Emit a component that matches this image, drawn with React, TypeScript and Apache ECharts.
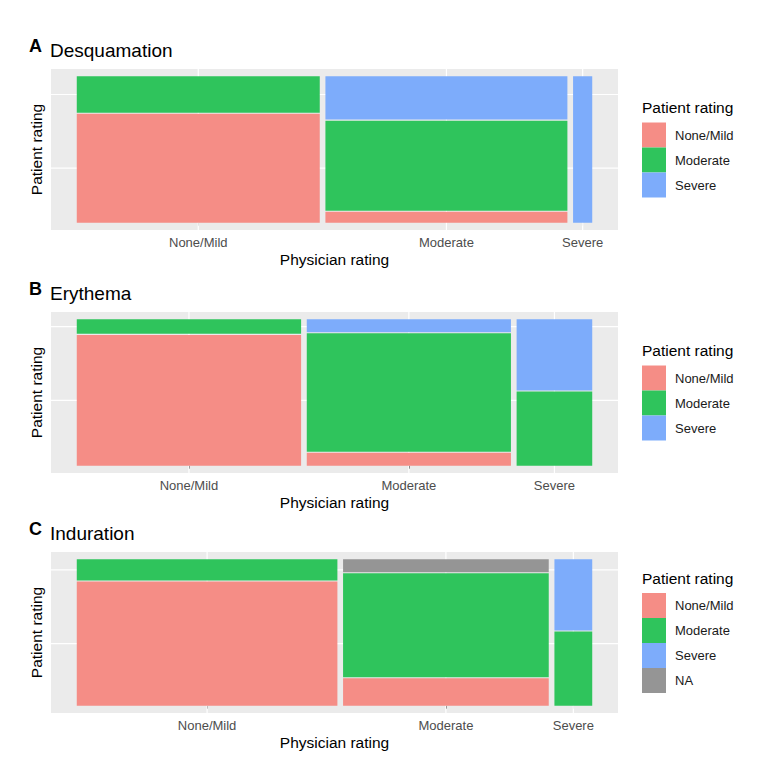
import React, { useEffect, useRef } from 'react';
import * as echarts from 'echarts';

// Physician rating = columns (x), patient rating = stacked segments (y)
const physicianLevels = ['None/Mild', 'Moderate', 'Severe'];
const patientLevels = ['None/Mild', 'Moderate', 'Severe', 'NA'];
const patientColors = ['#F58D86', '#2FC45C', '#7DACFB', '#959595'];

const panelLetters = ['A', 'B', 'C'];
const panelTitles = ['Desquamation', 'Erythema', 'Induration'];

// share of patients in each physician column
const desqWidths = [0.482, 0.48, 0.038];
const erythWidths = [0.445, 0.405, 0.15];
const indurWidths = [0.517, 0.408, 0.075];

// patient rating share inside each column, bottom to top: None/Mild, Moderate, Severe, NA
const desqNoneMild = [0.75, 0.25, 0, 0];
const desqModerate = [0.075, 0.625, 0.3, 0];
const desqSevere = [0, 0, 1, 0];

const erythNoneMild = [0.9, 0.1, 0, 0];
const erythModerate = [0.09, 0.82, 0.09, 0];
const erythSevere = [0, 0.51, 0.49, 0];

const indurNoneMild = [0.855, 0.145, 0, 0];
const indurModerate = [0.19, 0.72, 0, 0.09];
const indurSevere = [0, 0.51, 0.49, 0];

const X_GAP = 0.011;
const Y_GAP = 0.007;
const FONT = 'Liberation Sans, Arial, Helvetica, sans-serif';

const panels = [
  { widths: desqWidths, shares: [desqNoneMild, desqModerate, desqSevere], top: 69, legendN: 3 },
  { widths: erythWidths, shares: [erythNoneMild, erythModerate, erythSevere], top: 312, legendN: 3 },
  { widths: indurWidths, shares: [indurNoneMild, indurModerate, indurSevere], top: 552, legendN: 4 },
];

const GRID_LEFT = 51;
const GRID_WIDTH = 567;
const GRID_HEIGHT = 161;

function buildMosaic(widths: number[], shares: number[][]) {
  const total = widths.reduce((a, b) => a + b, 0);
  const availX = 1 - X_GAP * (widths.length - 1);
  const rects: number[][][] = patientLevels.map(() => []);
  const xCenters: number[] = [];
  const yCenters: number[] = [];
  let x = 0;
  widths.forEach((w, i) => {
    const x1 = x + (w / total) * availX;
    xCenters.push((x + x1) / 2);
    const col = shares[i];
    const nz = col.filter(s => s > 0).length;
    const availY = 1 - Y_GAP * (nz - 1);
    const colTotal = col.reduce((a, b) => a + b, 0);
    let y = 0;
    col.forEach((s, j) => {
      if (s <= 0) return;
      const y1 = y + (s / colTotal) * availY;
      rects[j].push([x, x1, y, y1]);
      if (i === 0) yCenters.push((y + y1) / 2);
      y = y1 + Y_GAP;
    });
    x = x1 + X_GAP;
  });
  return { rects, xCenters, yCenters };
}

export default function App() {
  const chartRef = useRef<HTMLDivElement>(null);

  useEffect(() => {
    if (!chartRef.current) return;
    const chart = echarts.init(chartRef.current, null, { renderer: 'svg' });

    const grids: any[] = [];
    const xAxes: any[] = [];
    const yAxes: any[] = [];
    const series: any[] = [];
    const legends: any[] = [];
    const titles: any[] = [];

    panels.forEach((p, i) => {
      const { rects, xCenters, yCenters } = buildMosaic(p.widths, p.shares);
      const center = p.top + GRID_HEIGHT / 2;

      grids.push({
        left: GRID_LEFT,
        top: p.top,
        width: GRID_WIDTH,
        height: GRID_HEIGHT,
        show: true,
        backgroundColor: '#EBEBEB',
        borderWidth: 0,
      });

      xAxes.push({
        type: 'value',
        gridIndex: i,
        min: -0.05,
        max: 1.05,
        splitLine: { show: false },
        axisLine: { show: false },
        axisTick: {
          show: true,
          customValues: xCenters,
          length: 3,
          lineStyle: { color: '#333333', width: 1 },
        },
        axisLabel: {
          customValues: xCenters,
          formatter: (v: number) => {
            const k = xCenters.findIndex(c => Math.abs(c - v) < 1e-6);
            return k >= 0 ? physicianLevels[k] : '';
          },
          color: '#4D4D4D',
          fontSize: 13,
          margin: 6,
          fontFamily: FONT,
        },
        name: 'Physician rating',
        nameLocation: 'middle',
        nameGap: 21,
        nameTextStyle: { fontSize: 15.5, color: '#000', fontFamily: FONT },
      });

      yAxes.push({
        type: 'value',
        gridIndex: i,
        min: -0.05,
        max: 1.05,
        splitLine: { show: false },
        axisLine: { show: false },
        axisTick: { show: false },
        axisLabel: { show: false },
        name: 'Patient rating',
        nameLocation: 'middle',
        nameGap: 7,
        nameTextStyle: { fontSize: 15.5, color: '#000', fontFamily: FONT },
      });

      // white grid lines at the column / segment centres
      series.push({
        type: 'custom',
        xAxisIndex: i,
        yAxisIndex: i,
        silent: true,
        z: 1,
        data: xCenters.map(c => [c, 0]),
        encode: { x: 0, y: 1 },
        renderItem: (params: any, api: any) => {
          const c = api.coord([api.value(0), 0]);
          const cs = params.coordSys;
          return {
            type: 'line',
            shape: { x1: c[0], y1: cs.y, x2: c[0], y2: cs.y + cs.height },
            style: { stroke: '#FFFFFF', lineWidth: 1.2 },
          };
        },
      });
      series.push({
        type: 'custom',
        xAxisIndex: i,
        yAxisIndex: i,
        silent: true,
        z: 1,
        data: yCenters.map(c => [0, c]),
        encode: { x: 0, y: 1 },
        renderItem: (params: any, api: any) => {
          const c = api.coord([0, api.value(1)]);
          const cs = params.coordSys;
          return {
            type: 'line',
            shape: { x1: cs.x, y1: c[1], x2: cs.x + cs.width, y2: c[1] },
            style: { stroke: '#FFFFFF', lineWidth: 1.2 },
          };
        },
      });

      const names: string[] = [];
      patientLevels.forEach((lvl, j) => {
        if (j >= p.legendN) return;
        names.push(lvl);
        series.push({
          type: 'custom',
          name: lvl,
          xAxisIndex: i,
          yAxisIndex: i,
          z: 2,
          itemStyle: { color: patientColors[j] },
          dimensions: ['x0', 'x1', 'y0', 'y1'],
          encode: { x: [0, 1], y: [2, 3] },
          data: rects[j],
          renderItem: (params: any, api: any) => {
            const a = api.coord([api.value(0), api.value(3)]);
            const b = api.coord([api.value(1), api.value(2)]);
            return {
              type: 'rect',
              shape: { x: a[0], y: a[1], width: b[0] - a[0], height: b[1] - a[1] },
              style: { fill: patientColors[j] },
            };
          },
        });
      });

      const keysTop = center - (p.legendN * 25 + 22) / 2 + 22 - 0.5;
      legends.push({
        orient: 'vertical',
        left: 642,
        top: keysTop,
        padding: 0,
        itemWidth: 24,
        itemHeight: 25,
        itemGap: 0,
        icon: 'rect',
        selectedMode: false,
        data: names,
        textStyle: { fontSize: 13, color: '#1A1A1A', fontFamily: FONT, padding: [0, 0, 0, 4] },
      });

      titles.push({
        text: 'Patient rating',
        left: 642,
        top: keysTop - 14 - 9,
        padding: 0,
        textStyle: { fontSize: 15.5, fontWeight: 'normal', color: '#000', fontFamily: FONT },
      });
      titles.push({
        text: panelLetters[i],
        left: 29,
        top: p.top - 32,
        padding: 0,
        textStyle: { fontSize: 18, fontWeight: 'bold', color: '#000', fontFamily: FONT },
      });
      titles.push({
        text: panelTitles[i],
        left: 50,
        top: p.top - 28,
        padding: 0,
        textStyle: { fontSize: 19, fontWeight: 'normal', color: '#000', fontFamily: FONT },
      });
    });

    chart.setOption({
      animation: false,
      backgroundColor: '#FFFFFF',
      textStyle: { fontFamily: FONT },
      title: titles,
      legend: legends,
      grid: grids,
      xAxis: xAxes,
      yAxis: yAxes,
      series,
    });

    return () => {
      chart.dispose();
    };
  }, []);

  return (
    <div
      ref={chartRef}
      style={{ position: 'absolute', left: 0, top: 0, width: 766, height: 778 }}
    />
  );
}
